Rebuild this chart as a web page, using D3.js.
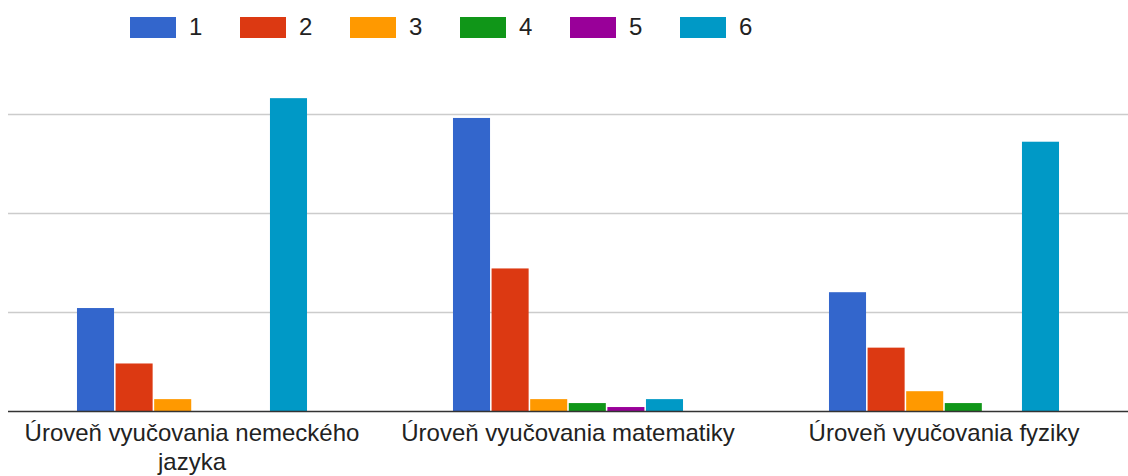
<!DOCTYPE html>
<html>
<head>
<meta charset="utf-8">
<script src="https://cdn.jsdelivr.net/npm/d3@7"></script>
<style>
  body { margin: 0; background: #fff; }
  svg { display: block; font-family: "Liberation Sans", Arial, sans-serif; }
</style>
</head>
<body>
<div id="chart"></div>
<script>
var width = 1128
var height = 476

// categories and series
var categories = ["Úroveň vyučovania nemeckého jazyka", "Úroveň vyučovania matematiky", "Úroveň vyučovania fyziky"];
var seriesNames = ["1", "2", "3", "4", "5", "6"];
var seriesColors = ["#3366cc", "#dc3912", "#ff9900", "#109618", "#990099", "#0099c6"];

var values1 = [26, 74, 30];
var values2 = [12, 36, 16];
var values3 = [3, 3, 5];
var values4 = [0, 2, 2];
var values5 = [0, 1, 0];
var values6 = [79, 3, 68];

var gridTicks = [25, 50, 75];

var allSeries = [values1, values2, values3, values4, values5, values6];

var svg = d3.select("#chart").append("svg")
    .attr("width", width)
    .attr("height", height);

var xScale = d3.scaleBand()
    .domain(categories)
    .range([4, 1132])
    .paddingInner(0.38)
    .paddingOuter(0.19);

var xInner = d3.scaleBand()
    .domain(seriesNames)
    .range([0, xScale.bandwidth()])
    .padding(0.04);

var yScale = d3.scaleLinear()
    .domain([0, 100])
    .range([411, 15]);

// gridlines
svg.append("g")
    .selectAll("line")
    .data(gridTicks)
    .enter().append("line")
    .attr("x1", 8)
    .attr("x2", width)
    .attr("y1", function(d) { return Math.round(yScale(d)) + 0.5; })
    .attr("y2", function(d) { return Math.round(yScale(d)) + 0.5; })
    .attr("stroke", "#cccccc")
    .attr("stroke-width", 1.5);

// bars
var groups = svg.append("g")
    .selectAll("g")
    .data(categories)
    .enter().append("g")
    .attr("transform", function(d) { return "translate(" + xScale(d) + ",0)"; });

groups.selectAll("rect")
    .data(function(d, ci) {
        return seriesNames.map(function(s, si) { return { s: s, v: allSeries[si][ci], c: seriesColors[si] }; });
    })
    .enter().append("rect")
    .attr("x", function(d) { return xInner(d.s); })
    .attr("width", xInner.bandwidth())
    .attr("y", function(d) { return yScale(d.v); })
    .attr("height", function(d) { return yScale(0) - yScale(d.v); })
    .attr("fill", function(d) { return d.c; });

// baseline
svg.append("line")
    .attr("x1", 8)
    .attr("x2", width)
    .attr("y1", yScale(0) + 0.5)
    .attr("y2", yScale(0) + 0.5)
    .attr("stroke", "#333333")
    .attr("stroke-width", 1.5);

// x axis labels, wrapped to fit the band
var labels = svg.append("g")
    .selectAll("text")
    .data(categories)
    .enter().append("text")
    .attr("x", function(d) { return xScale(d) + xScale.bandwidth() / 2; })
    .attr("y", 441)
    .attr("text-anchor", "middle")
    .attr("font-size", 24)
    .attr("fill", "#222222");

labels.each(function(d) {
    var el = d3.select(this);
    var cx = xScale(d) + xScale.bandwidth() / 2;
    var words = d.split(" ");
    var line = [];
    var tspan = el.append("tspan").attr("x", cx).attr("dy", 0);
    words.forEach(function(w) {
        line.push(w);
        tspan.text(line.join(" "));
        if (tspan.node().getComputedTextLength() > 360 && line.length > 1) {
            line.pop();
            tspan.text(line.join(" "));
            line = [w];
            tspan = el.append("tspan").attr("x", cx).attr("dy", 29).text(w);
        }
    });
});

// legend
var legend = svg.append("g")
    .selectAll("g")
    .data(seriesNames)
    .enter().append("g")
    .attr("transform", function(d, i) { return "translate(" + (130 + i * 110) + ",0)"; });

legend.append("rect")
    .attr("x", 0)
    .attr("y", 17)
    .attr("width", 46)
    .attr("height", 21)
    .attr("fill", function(d, i) { return seriesColors[i]; });

legend.append("text")
    .attr("x", 59)
    .attr("y", 35)
    .attr("font-size", 24)
    .attr("fill", "#222222")
    .text(function(d) { return d; });
</script>
</body>
</html>
